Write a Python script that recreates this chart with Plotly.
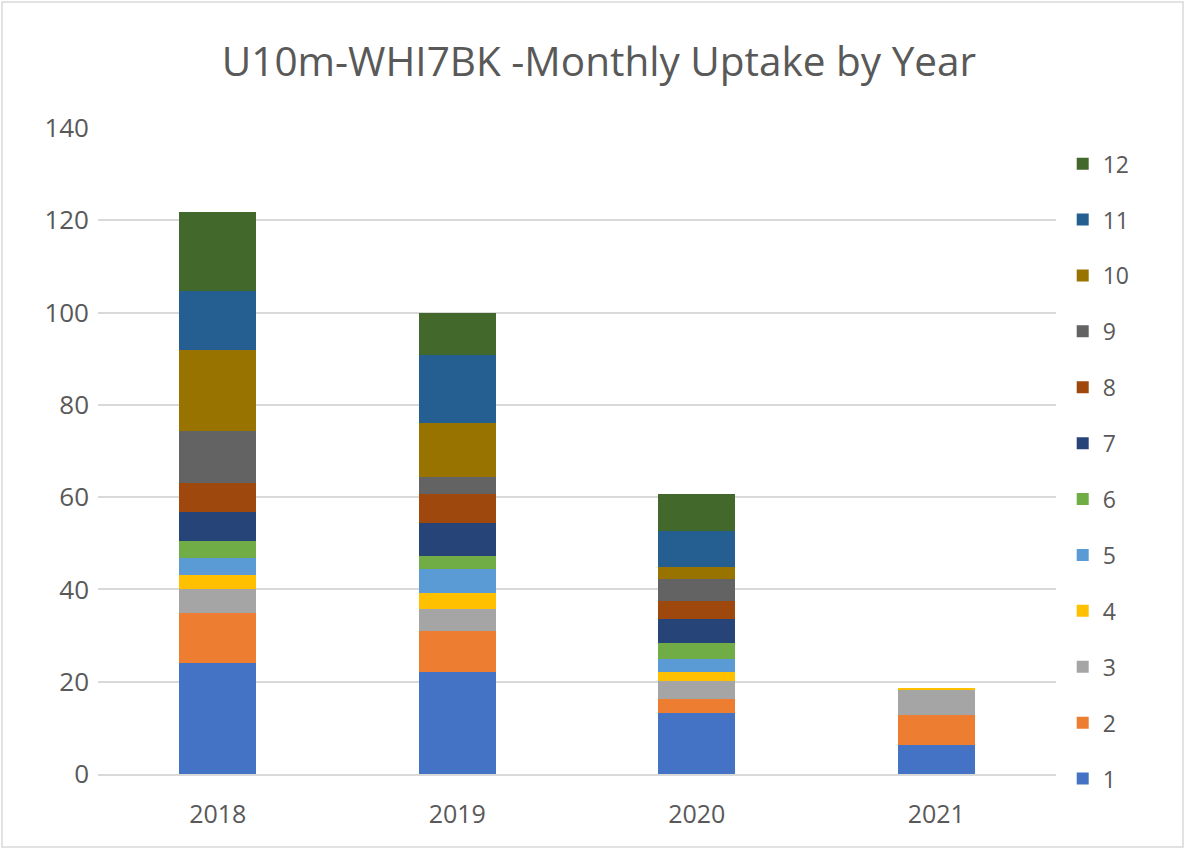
import plotly.graph_objects as go

years = ["2018", "2019", "2020", "2021"]
months = ["1", "2", "3", "4", "5", "6", "7", "8", "9", "10", "11", "12"]

# monthly uptake per year (rows = month 1..12, columns = 2018..2021)
m1 = [24.0, 22.2, 13.2, 6.3]
m2 = [10.8, 8.8, 3.1, 6.5]
m3 = [5.2, 4.8, 3.8, 5.3]
m4 = [3.1, 3.5, 2.1, 0.6]
m5 = [3.7, 5.1, 2.7, 0.0]
m6 = [3.8, 2.9, 3.4, 0.0]
m7 = [6.2, 7.2, 5.2, 0.0]
m8 = [6.2, 6.1, 4.1, 0.0]
m9 = [11.3, 3.8, 4.7, 0.0]
m10 = [17.5, 11.6, 2.5, 0.0]
m11 = [12.9, 14.8, 7.9, 0.0]
m12 = [17.2, 9.2, 7.9, 0.0]
series = [m1, m2, m3, m4, m5, m6, m7, m8, m9, m10, m11, m12]

colors = ["#4472C4", "#ED7D31", "#A5A5A5", "#FFC000", "#5B9BD5", "#70AD47",
          "#264478", "#9E480E", "#636363", "#997300", "#255E91", "#43682B"]

FONT = "Open Sans"
GREY = "#595959"

fig = go.Figure()
for i, (name, vals, col) in enumerate(zip(months, series, colors)):
    fig.add_trace(go.Bar(
        x=years, y=vals, name=name, legendgroup=name,
        legendrank=100 - i,
        marker=dict(color=col, line=dict(width=0)),
    ))

# page margins in px, used to place the outer frame in paper units
L, R, T, B = 98, 130, 128, 75
W, H = 1186, 849
pw, ph = W - L - R, H - T - B

fig.update_layout(
    width=W, height=H,
    barmode="stack", bargap=0.68,
    margin=dict(l=L, r=R, t=T, b=B),
    paper_bgcolor="white", plot_bgcolor="white",
    font=dict(family=FONT, color=GREY, size=24),
    title=dict(text="U10m-WHI7BK -Monthly Uptake by Year",
               x=0.505, xanchor="center", y=0.927, yanchor="middle",
               font=dict(family=FONT, size=40.5, color=GREY)),
    xaxis=dict(showgrid=False, showline=True, linecolor="#D9D9D9", linewidth=1.5,
               ticks="", ticklabelstandoff=17, tickfont=dict(size=25, color=GREY)),
    yaxis=dict(range=[0, 140], dtick=20, showgrid=True, gridcolor="#D9D9D9",
               gridwidth=1.5, zeroline=False, ticks="", ticklen=0,
               ticklabelstandoff=8, tickfont=dict(size=26, color=GREY)),
    legend=dict(traceorder="grouped", tracegroupgap=23, maxheight=760,
                x=1.007, xanchor="left", y=0.978, yanchor="top",
                font=dict(size=23, color=GREY), itemwidth=30),
    shapes=[dict(type="rect", xref="paper", yref="paper",
                 x0=(2 - L) / pw, x1=(W - 3 - L) / pw,
                 y0=-(H - 2 - T - ph) / ph, y1=(H - B - 2) / ph,
                 line=dict(color="#D9D9D9", width=1.5), layer="below")],
)

fig.write_html("out.html")
